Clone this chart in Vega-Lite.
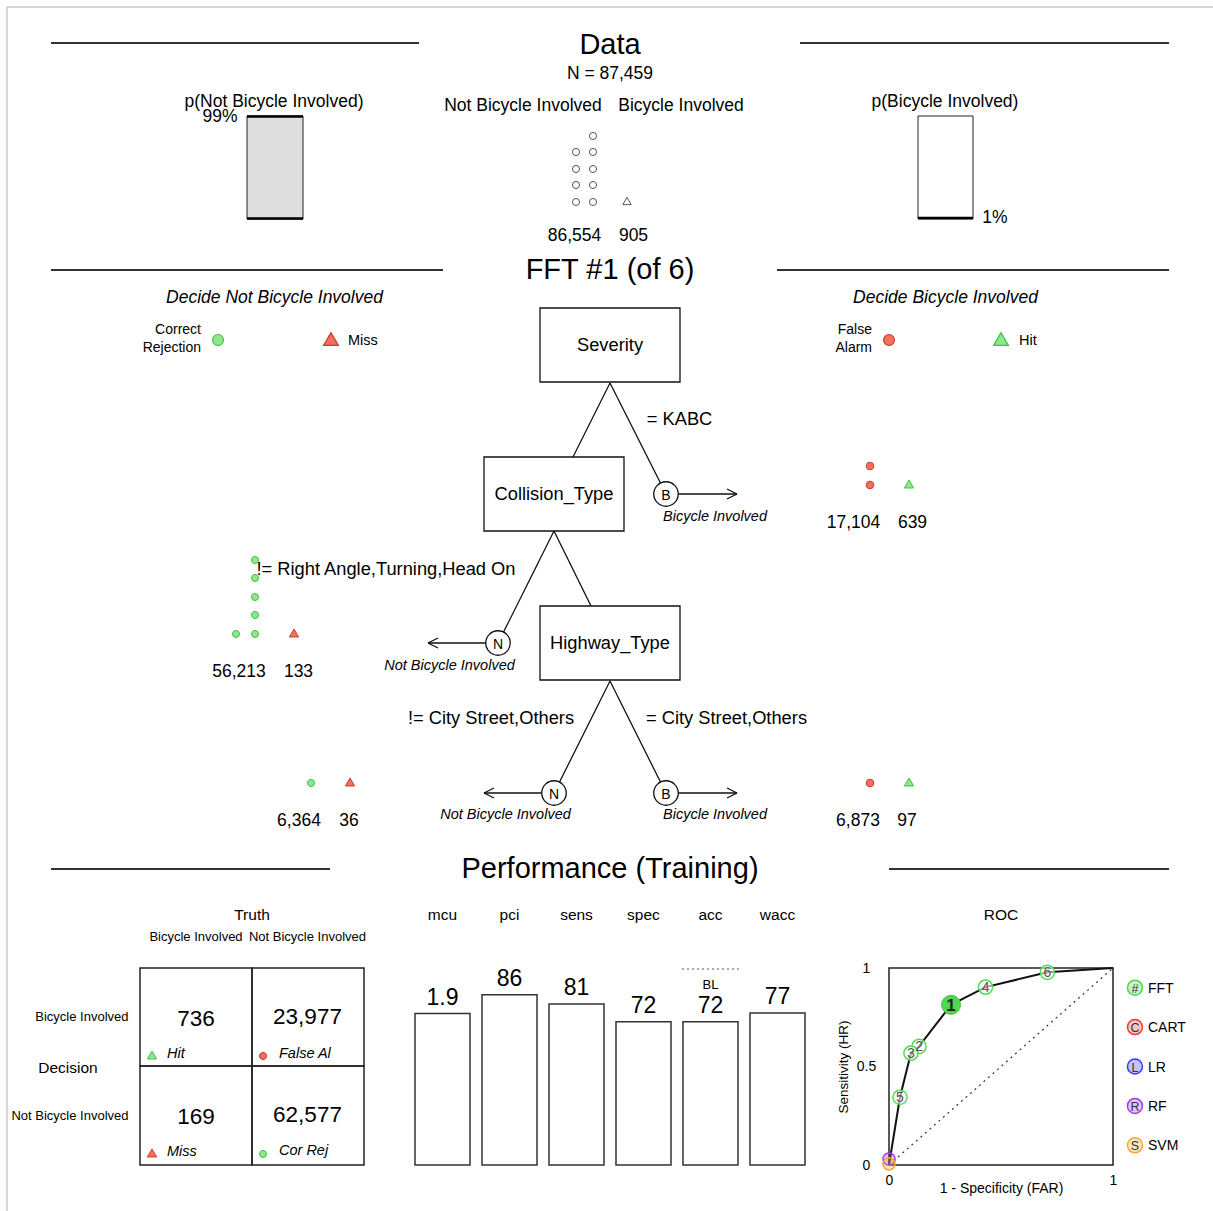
{
"$schema":"https://vega.github.io/schema/vega-lite/v6.json",
"width":1213,"height":1211,"autosize":"none","padding":0,"background":"white",
"config":{"view":{"stroke":null},"font":"Liberation Sans","text":{"color":"#000"}},
"layer":[
{
"encoding":{"x":{"field":"x","type":"quantitative","scale":{"domain":[0,121.3]},"axis":null},"y":{"field":"y","type":"quantitative","scale":{"domain":[0,121.1],"reverse":true},"axis":null}},
"layer":[
{"data":{"values":[{"x":0.7,"x2":121.3,"y":0.7,"y2":0.7},{"x":0.7,"x2":0.7,"y":0.7,"y2":121.1}]},"mark":{"type":"rule","color":"#c8c8c8","strokeWidth":1.5},"encoding":{"x2":{"field":"x2"},"y2":{"field":"y2"}}},
{"data":{"values":[{"x":5.1,"x2":41.9,"y":4.3,"y2":4.3},{"x":80.0,"x2":116.9,"y":4.3,"y2":4.3},{"x":5.1,"x2":44.3,"y":27.0,"y2":27.0},{"x":77.7,"x2":116.9,"y":27.0,"y2":27.0},{"x":5.1,"x2":33.0,"y":86.9,"y2":86.9},{"x":88.9,"x2":116.9,"y":86.9,"y2":86.9}]},"mark":{"type":"rule","color":"#333","strokeWidth":1.8},"encoding":{"x2":{"field":"x2"},"y2":{"field":"y2"}}},
{"data":{"values":[{"x":24.7,"x2":30.3,"y":11.6,"y2":21.9}]},"mark":{"type":"rect","fill":"#dedede","stroke":"#222","strokeWidth":1},"encoding":{"x2":{"field":"x2"},"y2":{"field":"y2"}}},
{"data":{"values":[{"x":91.8,"x2":97.3,"y":11.6,"y2":21.9}]},"mark":{"type":"rect","fill":"white","stroke":"#222","strokeWidth":1},"encoding":{"x2":{"field":"x2"},"y2":{"field":"y2"}}},
{"data":{"values":[{"x":24.7,"x2":30.3,"y":11.65,"y2":11.65},{"x":24.7,"x2":30.3,"y":21.85,"y2":21.85},{"x":91.8,"x2":97.3,"y":21.8,"y2":21.8}]},"mark":{"type":"rule","color":"#000","strokeWidth":2.5},"encoding":{"x2":{"field":"x2"},"y2":{"field":"y2"}}},
{"data":{"values":[{"x":61.0,"y":38.3,"x2":57.3,"y2":45.7},{"x":61.0,"y":38.3,"x2":66.06,"y2":48.33},{"x":55.4,"y":53.1,"x2":59.1,"y2":60.6},{"x":55.4,"y":53.1,"x2":50.34,"y2":63.23},{"x":61.0,"y":68.1,"x2":55.94,"y2":78.23},{"x":61.0,"y":68.1,"x2":66.06,"y2":78.23},{"x":67.85,"y":49.4,"x2":73.7,"y2":49.4},{"x":72.7,"y":48.9,"x2":73.7,"y2":49.4},{"x":72.7,"y":49.9,"x2":73.7,"y2":49.4},{"x":48.55,"y":64.3,"x2":42.8,"y2":64.3},{"x":43.8,"y":63.8,"x2":42.8,"y2":64.3},{"x":43.8,"y":64.8,"x2":42.8,"y2":64.3},{"x":54.15,"y":79.3,"x2":48.4,"y2":79.3},{"x":49.4,"y":78.8,"x2":48.4,"y2":79.3},{"x":49.4,"y":79.8,"x2":48.4,"y2":79.3},{"x":67.85,"y":79.3,"x2":73.7,"y2":79.3},{"x":72.7,"y":78.8,"x2":73.7,"y2":79.3},{"x":72.7,"y":79.8,"x2":73.7,"y2":79.3}]},"mark":{"type":"rule","color":"#111","strokeWidth":1.3},"encoding":{"x2":{"field":"x2"},"y2":{"field":"y2"}}},
{"data":{"values":[{"x":54.0,"x2":68.0,"y":30.8,"y2":38.2},{"x":48.4,"x2":62.4,"y":45.7,"y2":53.1},{"x":54.0,"x2":68.0,"y":60.6,"y2":68.0}]},"mark":{"type":"rect","fill":"white","stroke":"#111","strokeWidth":1.3},"encoding":{"x2":{"field":"x2"},"y2":{"field":"y2"}}},
{"data":{"values":[{"x":14.0,"x2":25.2,"y":96.8,"y2":106.6},{"x":25.2,"x2":36.4,"y":96.8,"y2":106.6},{"x":14.0,"x2":25.2,"y":106.6,"y2":116.5},{"x":25.2,"x2":36.4,"y":106.6,"y2":116.5}]},"mark":{"type":"rect","filled":false,"color":"#222","strokeWidth":1.5},"encoding":{"x2":{"field":"x2"},"y2":{"field":"y2"}}},
{"data":{"values":[{"x":68.2,"x2":73.9,"y":96.9,"y2":96.9}]},"mark":{"type":"rule","color":"#555","strokeWidth":1.2,"strokeDash":[2,3]},"encoding":{"x2":{"field":"x2"},"y2":{"field":"y2"}}},
{"data":{"values":[{"x":66.6,"y":49.4,"text":"B"},{"x":49.8,"y":64.3,"text":"N"},{"x":55.4,"y":79.3,"text":"N"},{"x":66.6,"y":79.3,"text":"B"}]},"mark":{"type":"point","shape":"circle","filled":true,"fill":"white","stroke":"#111","strokeWidth":1.3,"size":600,"opacity":1}},
{"data":{"values":[{"x":66.6,"y":49.4,"text":"B"},{"x":49.8,"y":64.3,"text":"N"},{"x":55.4,"y":79.3,"text":"N"},{"x":66.6,"y":79.3,"text":"B"}]},"mark":{"type":"text","fontSize":14,"align":"center","baseline":"middle","dy":1.5},"encoding":{"text":{"field":"text"}}},
{"data":{"values":[{"x":57.6,"y":13.6},{"x":59.3,"y":13.6},{"x":57.6,"y":15.2},{"x":59.3,"y":15.2},{"x":57.6,"y":16.9},{"x":59.3,"y":16.9},{"x":57.6,"y":18.5},{"x":59.3,"y":18.5},{"x":57.6,"y":20.2},{"x":59.3,"y":20.2}]},"transform":[{"filter":"!(datum.x < 58 && datum.y < 14)"}],"mark":{"type":"point","shape":"circle","filled":false,"color":"#555","strokeWidth":1,"size":50,"opacity":1}},
{"data":{"values":[{"x":62.7,"y":20.1}]},"mark":{"type":"point","shape":"triangle-up","filled":false,"color":"#555","strokeWidth":1,"size":70,"opacity":1}},
{"data":{"values":[{"x":25.5,"y":56.0,"outcome":"correct"},{"x":25.5,"y":57.8,"outcome":"correct"},{"x":25.5,"y":59.7,"outcome":"correct"},{"x":25.5,"y":61.5,"outcome":"correct"},{"x":25.5,"y":63.4,"outcome":"correct"},{"x":23.6,"y":63.4,"outcome":"correct"},{"x":31.1,"y":78.3,"outcome":"correct"},{"x":26.3,"y":105.6,"outcome":"error"},{"x":26.3,"y":115.4,"outcome":"correct"}]},"mark":{"type":"point","shape":"circle","filled":true,"strokeWidth":1,"size":50,"opacity":1},"encoding":{"fill":{"field":"outcome","type":"nominal","scale":{"domain":["correct","error"],"range":["#8ee68e","#f2705c"]},"legend":null},"stroke":{"field":"outcome","type":"nominal","scale":{"domain":["correct","error"],"range":["#3fc43f","#cc3c2a"]},"legend":null}}},
{"data":{"values":[{"x":87.0,"y":46.6,"outcome":"error"},{"x":87.0,"y":48.5,"outcome":"error"},{"x":87.0,"y":78.3,"outcome":"error"}]},"mark":{"type":"point","shape":"circle","filled":true,"strokeWidth":1,"size":58,"opacity":1},"encoding":{"fill":{"field":"outcome","type":"nominal","legend":null},"stroke":{"field":"outcome","type":"nominal","legend":null}}},
{"data":{"values":[{"x":21.8,"y":34.0,"outcome":"correct"},{"x":88.9,"y":34.0,"outcome":"error"}]},"mark":{"type":"point","shape":"circle","filled":true,"strokeWidth":1.2,"size":120,"opacity":1},"encoding":{"fill":{"field":"outcome","type":"nominal","legend":null},"stroke":{"field":"outcome","type":"nominal","legend":null}}},
{"data":{"values":[{"x":29.4,"y":63.3,"outcome":"error"},{"x":35.0,"y":78.2,"outcome":"error"},{"x":90.9,"y":48.4,"outcome":"correct"},{"x":90.9,"y":78.2,"outcome":"correct"},{"x":15.2,"y":105.5,"outcome":"correct"},{"x":15.2,"y":115.3,"outcome":"error"}]},"mark":{"type":"point","shape":"triangle-up","filled":true,"strokeWidth":1,"size":85,"opacity":1},"encoding":{"fill":{"field":"outcome","type":"nominal","legend":null},"stroke":{"field":"outcome","type":"nominal","legend":null}}},
{"data":{"values":[{"x":33.1,"y":33.9,"outcome":"error"},{"x":100.1,"y":33.9,"outcome":"correct"}]},"mark":{"type":"point","shape":"triangle-up","filled":true,"strokeWidth":1.2,"size":220,"opacity":1},"encoding":{"fill":{"field":"outcome","type":"nominal","legend":null},"stroke":{"field":"outcome","type":"nominal","legend":null}}},
{"data":{"values":[{"x":61.0,"y":4.4,"text":"Data"},{"x":61.0,"y":26.9,"text":"FFT #1 (of 6)"},{"x":61.0,"y":86.8,"text":"Performance (Training)"}]},"mark":{"type":"text","fontSize":29,"align":"center","baseline":"middle","dy":1},"encoding":{"text":{"field":"text"}}},
{"data":{"values":[{"x":61.0,"y":7.3,"text":"N = 87,459"},{"x":27.4,"y":10.1,"text":"p(Not Bicycle Involved)"},{"x":94.5,"y":10.1,"text":"p(Bicycle Involved)"},{"x":52.3,"y":10.5,"text":"Not Bicycle Involved"},{"x":68.1,"y":10.5,"text":"Bicycle Involved"},{"x":22.0,"y":11.6,"text":"99%"},{"x":99.5,"y":21.7,"text":"1%"},{"x":57.45,"y":23.5,"text":"86,554"},{"x":63.35,"y":23.5,"text":"905"},{"x":85.35,"y":52.2,"text":"17,104"},{"x":91.25,"y":52.2,"text":"639"},{"x":23.9,"y":67.1,"text":"56,213"},{"x":29.85,"y":67.1,"text":"133"},{"x":29.9,"y":82.0,"text":"6,364"},{"x":34.9,"y":82.0,"text":"36"},{"x":85.8,"y":82.0,"text":"6,873"},{"x":90.7,"y":82.0,"text":"97"}]},"mark":{"type":"text","fontSize":17.5,"align":"center","baseline":"middle","dy":1},"encoding":{"text":{"field":"text"}}},
{"data":{"values":[{"x":61.0,"y":34.5,"text":"Severity"},{"x":55.4,"y":49.4,"text":"Collision_Type"},{"x":61.0,"y":64.3,"text":"Highway_Type"},{"x":67.95,"y":41.9,"text":"= KABC"},{"x":38.6,"y":56.9,"text":"!= Right Angle,Turning,Head On"},{"x":49.1,"y":71.8,"text":"!= City Street,Others"},{"x":72.65,"y":71.8,"text":"= City Street,Others"}]},"mark":{"type":"text","fontSize":18.3,"align":"center","baseline":"middle","dy":1},"encoding":{"text":{"field":"text"}}},
{"data":{"values":[{"x":27.45,"y":29.7,"text":"Decide Not Bicycle Involved"},{"x":94.55,"y":29.7,"text":"Decide Bicycle Involved"}]},"mark":{"type":"text","fontSize":17.5,"fontStyle":"italic","align":"center","baseline":"middle","dy":1},"encoding":{"text":{"field":"text"}}},
{"data":{"values":[{"x":71.5,"y":51.6,"text":"Bicycle Involved"},{"x":44.95,"y":66.5,"text":"Not Bicycle Involved"},{"x":50.55,"y":81.4,"text":"Not Bicycle Involved"},{"x":71.5,"y":81.4,"text":"Bicycle Involved"}]},"mark":{"type":"text","fontSize":14.5,"fontStyle":"italic","align":"center","baseline":"middle","dy":1},"encoding":{"text":{"field":"text"}}},
{"data":{"values":[{"x":20.1,"y":32.9,"text":"Correct"},{"x":20.1,"y":34.7,"text":"Rejection"},{"x":87.2,"y":32.9,"text":"False"},{"x":87.2,"y":34.7,"text":"Alarm"}]},"mark":{"type":"text","fontSize":14,"align":"right","baseline":"middle","dy":1},"encoding":{"text":{"field":"text"}}},
{"data":{"values":[{"x":34.8,"y":34.0,"text":"Miss"},{"x":101.9,"y":34.0,"text":"Hit"}]},"mark":{"type":"text","fontSize":14.5,"align":"left","baseline":"middle","dy":1},"encoding":{"text":{"field":"text"}}},
{"data":{"values":[{"x":25.2,"y":91.4,"text":"Truth"},{"x":6.8,"y":106.7,"text":"Decision"},{"x":100.1,"y":91.4,"text":"ROC"}]},"mark":{"type":"text","fontSize":15.5,"align":"center","baseline":"middle","dy":1},"encoding":{"text":{"field":"text"}}},
{"data":{"values":[{"x":19.6,"y":93.6,"text":"Bicycle Involved"},{"x":30.75,"y":93.6,"text":"Not Bicycle Involved"}]},"mark":{"type":"text","fontSize":13,"align":"center","baseline":"middle","dy":1},"encoding":{"text":{"field":"text"}}},
{"data":{"values":[{"x":12.85,"y":101.6,"text":"Bicycle Involved"},{"x":12.85,"y":111.5,"text":"Not Bicycle Involved"}]},"mark":{"type":"text","fontSize":13,"align":"right","baseline":"middle","dy":1},"encoding":{"text":{"field":"text"}}},
{"data":{"values":[{"x":19.6,"y":101.8,"text":"736"},{"x":30.75,"y":101.6,"text":"23,977"},{"x":19.6,"y":111.6,"text":"169"},{"x":30.75,"y":111.4,"text":"62,577"}]},"mark":{"type":"text","fontSize":22.5,"align":"center","baseline":"middle","dy":1},"encoding":{"text":{"field":"text"}}},
{"data":{"values":[{"x":16.7,"y":105.3,"text":"Hit"},{"x":27.9,"y":105.3,"text":"False Al"},{"x":16.7,"y":115.1,"text":"Miss"},{"x":27.9,"y":115.0,"text":"Cor Rej"}]},"mark":{"type":"text","fontSize":14.5,"fontStyle":"italic","align":"left","baseline":"middle","dy":1},"encoding":{"text":{"field":"text"}}}
]
},
{
"data":{"values":[{"metric":"mcu","pct":76.5,"label":"1.9"},{"metric":"pci","pct":86.0,"label":"86"},{"metric":"sens","pct":81.3,"label":"81"},{"metric":"spec","pct":72.3,"label":"72"},{"metric":"acc","pct":72.4,"label":"72"},{"metric":"wacc","pct":76.8,"label":"77"}]},
"encoding":{"x":{"field":"metric","type":"nominal","sort":null,"scale":{"type":"band","domain":["mcu","pci","sens","spec","acc","wacc"],"range":[415,805],"paddingInner":0.179,"paddingOuter":0},"axis":null},"y":{"field":"pct","type":"quantitative","scale":{"domain":[0,100],"range":[1165,967]},"axis":null}},
"layer":[
{"mark":{"type":"bar","fill":"white","stroke":"#333","strokeWidth":1.5}},
{"mark":{"type":"text","fontSize":23,"align":"center","baseline":"middle","dy":-16},"encoding":{"text":{"field":"label"}}},
{"mark":{"type":"text","fontSize":15.5,"align":"center","baseline":"middle","dy":1},"encoding":{"y":{"datum":126.8},"text":{"field":"metric"}}},
{"transform":[{"filter":"datum.metric == 'acc'"}],"mark":{"type":"text","fontSize":13,"align":"center","baseline":"middle","dy":1},"encoding":{"y":{"datum":91.4},"text":{"value":"BL"}}}
]
},
{
"encoding":{
"x":{"field":"far","type":"quantitative","title":"1 - Specificity (FAR)","scale":{"domain":[0,1],"range":[889,1113]},"axis":{"orient":"bottom","offset":-46,"values":[0,1],"format":"~g","ticks":false,"domain":false,"grid":false,"labelFontSize":14,"labelPadding":8,"labelFlush":false,"labelColor":"#000","titleFontSize":14,"titleFontWeight":"normal","titleColor":"#000","titleY":23,"titleBaseline":"middle"}},
"y":{"field":"hr","type":"quantitative","title":"Sensitivity (HR)","scale":{"domain":[0,1],"range":[1165,968]},"axis":{"orient":"left","offset":-889,"values":[0,0.5,1],"format":"~g","ticks":false,"domain":false,"grid":false,"labelFontSize":14,"labelPadding":23,"labelAlign":"center","labelBaseline":"middle","labelColor":"#000","titleFontSize":13.5,"titleFontWeight":"normal","titleColor":"#000","titleX":-46,"titleBaseline":"middle"}}
},
"layer":[
{"data":{"values":[{"far":0,"far2":1,"hr":0,"hr2":1}]},"mark":{"type":"rect","filled":false,"color":"#222","strokeWidth":1.5},"encoding":{"x2":{"field":"far2"},"y2":{"field":"hr2"}}},
{"data":{"values":[{"far":0,"far2":1,"hr":0,"hr2":1}]},"mark":{"type":"rule","color":"#333","strokeWidth":1.2,"strokeDash":[2,4]},"encoding":{"x2":{"field":"far2"},"y2":{"field":"hr2"}}},
{"data":{"values":[{"far":0,"hr":0},{"far":0.049,"hr":0.344},{"far":0.098,"hr":0.568},{"far":0.134,"hr":0.602},{"far":0.277,"hr":0.813},{"far":0.431,"hr":0.903},{"far":0.707,"hr":0.978},{"far":1,"hr":1}]},"mark":{"type":"line","color":"#111","strokeWidth":2}},
{"data":{"values":[{"far":0,"hr":0.03,"model":"RF","letter":"R"},{"far":0,"hr":0.006,"model":"SVM","letter":"S"}]},"mark":{"type":"point","shape":"circle","filled":true,"size":150,"strokeWidth":1.5,"fillOpacity":0.3,"strokeOpacity":1,"opacity":1},"encoding":{"fill":{"field":"model","type":"nominal","scale":{"domain":["FFT","CART","LR","RF","SVM"],"range":["#4cd94c","#ee3b3b","#3b3bee","#a03bee","#f0a830"]},"legend":null},"stroke":{"field":"model","type":"nominal","scale":{"domain":["FFT","CART","LR","RF","SVM"],"range":["#4cd94c","#ee3b3b","#3b3bee","#a03bee","#f0a830"]},"legend":null}}},
{"data":{"values":[{"far":0.134,"hr":0.602,"tree":"2"},{"far":0.098,"hr":0.568,"tree":"3"},{"far":0.431,"hr":0.903,"tree":"4"},{"far":0.049,"hr":0.344,"tree":"5"},{"far":0.707,"hr":0.978,"tree":"6"}]},"layer":[
{"mark":{"type":"point","shape":"circle","filled":true,"fill":"white","fillOpacity":0.6,"stroke":"#52dc52","strokeWidth":1.5,"size":200,"opacity":1}},
{"mark":{"type":"text","fontSize":14,"color":"#555","align":"center","baseline":"middle","dy":1},"encoding":{"text":{"field":"tree"}}}
]},
{"data":{"values":[{"far":0.277,"hr":0.813,"tree":"1"}]},"layer":[
{"mark":{"type":"point","shape":"circle","filled":true,"fill":"#4fd84f","stroke":"#3ec43e","strokeWidth":1,"size":360,"opacity":1}},
{"mark":{"type":"text","fontSize":17,"fontWeight":"bold","color":"#222","align":"center","baseline":"middle","dy":1},"encoding":{"text":{"field":"tree"}}}
]},
{"data":{"values":[{"far":1.098,"hr":0.9,"model":"FFT","letter":"#"},{"far":1.098,"hr":0.7,"model":"CART","letter":"C"},{"far":1.098,"hr":0.5,"model":"LR","letter":"L"},{"far":1.098,"hr":0.3,"model":"RF","letter":"R"},{"far":1.098,"hr":0.1,"model":"SVM","letter":"S"}]},"layer":[
{"mark":{"type":"point","shape":"circle","filled":true,"size":225,"strokeWidth":1.5,"fillOpacity":0.3,"strokeOpacity":1,"opacity":1},"encoding":{"fill":{"field":"model","type":"nominal","legend":null},"stroke":{"field":"model","type":"nominal","legend":null}}},
{"mark":{"type":"text","fontSize":12.5,"color":"#333","align":"center","baseline":"middle","dy":1},"encoding":{"text":{"field":"letter"}}},
{"mark":{"type":"text","fontSize":14,"color":"#000","align":"left","baseline":"middle","dx":13,"dy":1},"encoding":{"text":{"field":"model"}}}
]}
]
}
],
"resolve":{"scale":{"x":"independent","y":"independent","fill":"independent","stroke":"independent"},"axis":{"x":"independent","y":"independent"}}
}
